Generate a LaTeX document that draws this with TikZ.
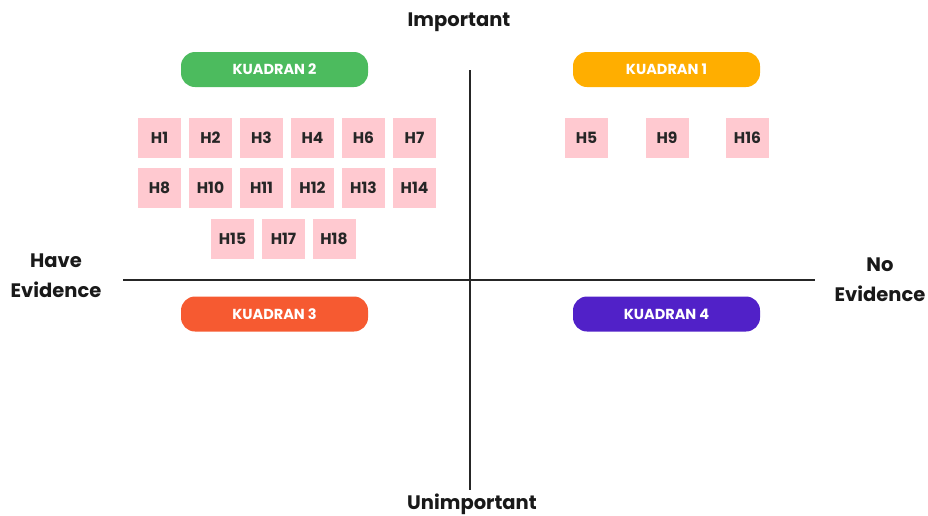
\documentclass[tikz,border=0pt]{standalone}
\usepackage{fontspec}
\setmainfont{Poppins}
\begin{document}
\begin{tikzpicture}[x=1pt,y=-1pt,
  hbox/.style={fill=hpink,minimum width=43pt,minimum height=40pt,inner sep=0pt,font=\fontsize{15.5}{17}\selectfont\bfseries,text=black!85},
  pill/.style={rounded corners=14pt,minimum width=187pt,minimum height=35pt,inner sep=0pt,text=white,font=\fontsize{14.5}{16}\selectfont\bfseries},
  axislabel/.style={font=\fontsize{19.5}{30}\selectfont\bfseries,text=black!90,align=center},
  axis/.style={line width=1.4pt,black!85}]
\definecolor{hpink}{HTML}{FFC9D0}
\definecolor{kgreen}{HTML}{4CBB5E}
\definecolor{korange}{HTML}{FFAE00}
\definecolor{kred}{HTML}{F65A31}
\definecolor{kpurple}{HTML}{5121C8}
\useasboundingbox (0,0) rectangle (928,515);
% axes
\coordinate (vt) at (470,70);
\coordinate (vb) at (470,490);
\coordinate (hl) at (123,280);
\coordinate (hr) at (815,280);
\draw[axis] (vt) -- (vb);
\draw[axis] (hl) -- (hr);
% axis labels
\node[axislabel] (imp) at (459,22) {Important};
\node[axislabel] (unimp) at (472,504) {Unimportant};
\node[axislabel] (have) at (56,276) {Have\\Evidence};
\node[axislabel] (noev) at (880,280) {No\\Evidence};
% quadrant pills
\node[pill,fill=kgreen] (k2) at (274.5,69.5) {KUADRAN 2};
\node[pill,fill=korange] (k1) at (666.5,69.5) {KUADRAN 1};
\node[pill,fill=kred] (k3) at (274.5,314) {KUADRAN 3};
\node[pill,fill=kpurple] (k4) at (666.5,314) {KUADRAN 4};
% quadrant 2 boxes
\node[hbox] (h1) at (159.5,138) {H1};
\node[hbox] (h2) at (210.5,138) {H2};
\node[hbox] (h3) at (261.5,138) {H3};
\node[hbox] (h4) at (312.5,138) {H4};
\node[hbox] (h6) at (363.5,138) {H6};
\node[hbox] (h7) at (414.5,138) {H7};
\node[hbox] (h8) at (159.5,188) {H8};
\node[hbox] (h10) at (210.5,188) {H10};
\node[hbox] (h11) at (261.5,188) {H11};
\node[hbox] (h12) at (312.5,188) {H12};
\node[hbox] (h13) at (363.5,188) {H13};
\node[hbox] (h14) at (414.5,188) {H14};
\node[hbox] (h15) at (232.5,239) {H15};
\node[hbox] (h17) at (283.5,239) {H17};
\node[hbox] (h18) at (334,239) {H18};
% quadrant 1 boxes
\node[hbox] (h5) at (586.5,138) {H5};
\node[hbox] (h9) at (667,138) {H9};
\node[hbox] (h16) at (747.5,138) {H16};
\end{tikzpicture}
\end{document}
